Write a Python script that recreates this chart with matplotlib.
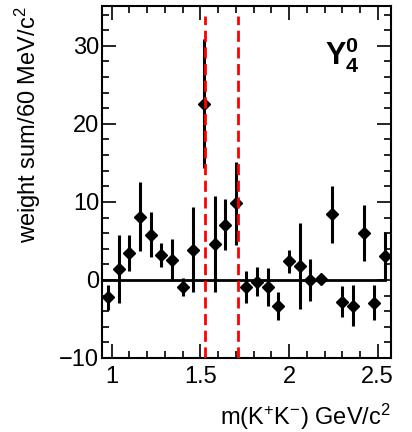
import numpy as np
import matplotlib
matplotlib.use("Agg")
import matplotlib.pyplot as plt
from matplotlib.ticker import MultipleLocator

# bin centres (60 MeV bins) and weight sums
mass = [0.98, 1.04, 1.10, 1.16, 1.22, 1.28, 1.34, 1.40, 1.46, 1.52,
        1.58, 1.64, 1.70, 1.76, 1.82, 1.88, 1.94, 2.00, 2.06, 2.12,
        2.18, 2.24, 2.30, 2.36, 2.42, 2.48, 2.54]
weight = [-2.2, 1.4, 3.5, 8.1, 5.8, 3.2, 2.6, -0.9, 3.9, 22.6,
          4.6, 7.1, 9.8, -0.9, -0.2, -0.9, -3.3, 2.4, 1.8, 0.0,
          0.1, 8.4, -2.8, -3.3, 6.0, -2.9, 3.1]
err = [1.6, 4.4, 2.3, 4.4, 2.9, 1.6, 2.7, 1.1, 5.4, 8.3,
       6.1, 3.3, 5.3, 2.1, 1.8, 2.4, 1.8, 1.5, 5.5, 2.7,
       0.4, 3.6, 2.0, 2.6, 3.6, 2.2, 3.1]
cut_lo, cut_hi = 1.525, 1.71

plt.rcParams['font.family'] = 'Liberation Sans'
plt.rcParams['mathtext.fontset'] = 'custom'
plt.rcParams['mathtext.rm'] = 'Liberation Sans'
plt.rcParams['mathtext.it'] = 'Liberation Sans'
plt.rcParams['mathtext.bf'] = 'Liberation Sans:bold'

fig = plt.figure(figsize=(4.12, 4.32), dpi=100)
ax = fig.add_axes([0.2476, 0.1713, 0.7014, 0.8147])

ax.plot([0.95, mass[-1]], [0, 0], color='black', lw=2.0, zorder=2)
ax.errorbar(mass, weight, yerr=err, fmt='D', color='black', ms=6,
            elinewidth=2.2, capsize=0, zorder=3)
for xc in (cut_lo, cut_hi):
    ax.plot([xc, xc], [-10, 33.8], color='red', lw=2, ls=(0, (4, 2)), zorder=4)

ax.text(0.89, 0.86, r'$\mathbf{Y_4^0}$', transform=ax.transAxes,
        ha='right', va='center', fontsize=22)

ax.set_xlim(0.945, 2.575)
ax.set_ylim(-10, 35.1)
ax.xaxis.set_major_locator(MultipleLocator(0.5))
ax.xaxis.set_minor_locator(MultipleLocator(0.1))
ax.yaxis.set_major_locator(MultipleLocator(10))
ax.yaxis.set_minor_locator(MultipleLocator(2))
ax.set_xticks([1, 1.5, 2, 2.5], ['1', '1.5', '2', '2.5'])
ax.tick_params(which='both', direction='in', top=True, right=True, width=1.2)
ax.tick_params(which='major', length=10, labelsize=17)
ax.tick_params(which='minor', length=5)
ax.tick_params(axis='x', pad=6)
ax.tick_params(axis='y', pad=2)
for sp in ax.spines.values():
    sp.set_linewidth(1.5)

ax.set_ylabel(r'weight sum/60 MeV/c$^{2}$', fontsize=17, loc='top')
ax.yaxis.set_label_coords(-0.204, 1.0)
ax.set_xlabel(r'm(K$^{+}$K$^{-}$) GeV/c$^{2}$', fontsize=17, loc='right')
ax.xaxis.set_label_coords(1.0, -0.125)

fig.savefig('out.png', dpi=100)
